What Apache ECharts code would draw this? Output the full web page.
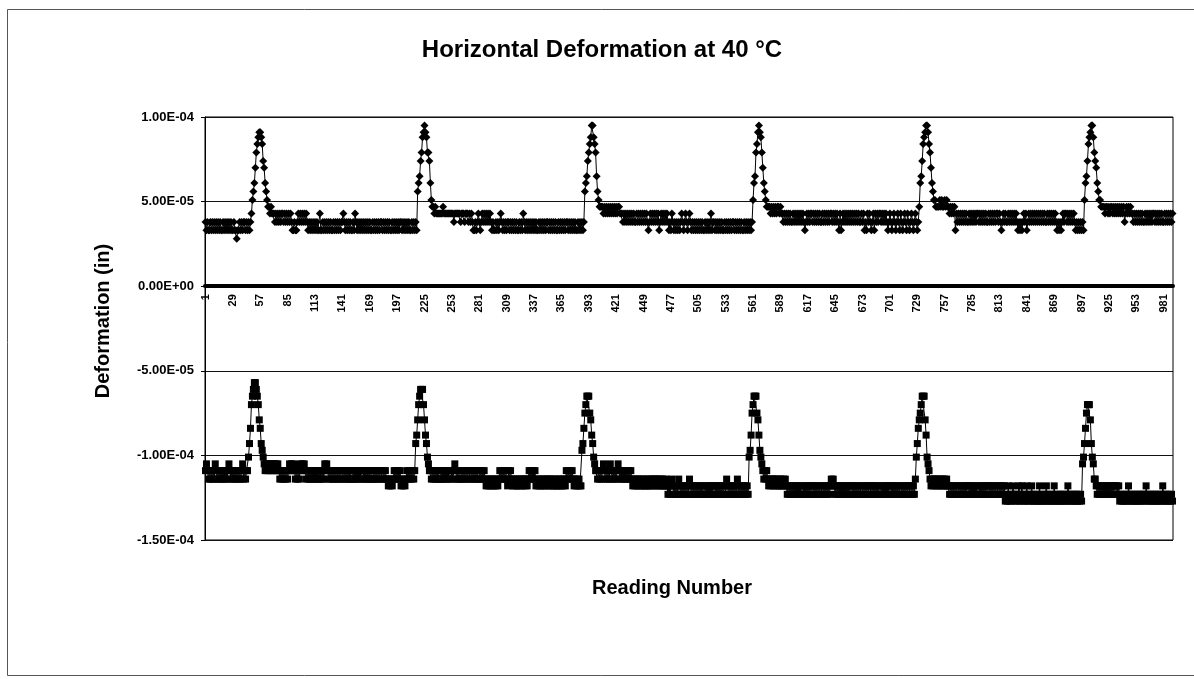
<!DOCTYPE html>
<html><head><meta charset="utf-8">
<script src="https://cdn.jsdelivr.net/npm/echarts@6/dist/echarts.min.js"></script>
<style>html,body{margin:0;padding:0;background:#fff}#c{width:1194px;height:679px}</style>
</head><body><div id="c"></div>
<script>
// ---- texts ----
const TITLE = 'Horizontal Deformation at 40 °C';
const X_NAME = 'Reading Number';
const Y_NAME = 'Deformation (in)';
// category tick labels shown on the x axis
const TICK_LABELS = ['1','29','57','85','113','141','169','197','225','253','281','309','337','365','393','421','449','477','505','533','561','589','617','645','673','701','729','757','785','813','841','869','897','925','953','981'];
// values are in micro-inches (1e-6 in); axis labels convert to inches
const VALUE_UNIT = 1e-6;
const Y_MIN = -150, Y_MAX = 100, Y_STEP = 50;

// ---- series 1 (diamonds): quantised reading levels, code letter a,b,c... -> level index ----
const TOP_LEVELS = [28, 33, 38, 43, 47, 51, 56, 61, 65, 70, 74, 79, 84, 88, 91, 95];
// one string per 10 readings (readings 1..990)
const TOP_CODES = [
 'cbcbbcbcbc','bcbcbcbbcb','cbcbcbcbbc','bbabbcbcbc','cbcbcbcdfg','hjlmnoonmk','jhgfeededd','dcdcdcdcdd','cdcdcdcdcb','bcbbcdcdcd',
 'cdcdcbcbcb','cbcbcbbdbb','cbcbcbcbcb','bcbcbcbcbc','cdcbcbcbcb','bcbdcbcbcb','cbcbcbcbcb','bcbcbcbcbc','cbcbcbcbcb','bcbcbcbcbc',
 'cbcbcbcbcb','bcbcbcbghi','klnoponllk','hfeededddd','dddedddddd','ddddcddddd','dcdddcdddc','dcdcbbcbcd','cbcdcdcdcd','cdcbcbbcbc',
 'bcdcbcbcbc','cbcbcbcbcb','bcbcbdcbcb','cbcbcbcbcb','bcbcbcbcbc','cbcbcbcbcb','bcbcbcbcbc','cbcbcbcbcb','bcbcbcbcgh','iklmnppnml',
 'igfeeeeded','ededededed','edeedddcdc','dcdcdcdcdc','cdcdcdcdcd','cdcbcdcdcd','cdcdbcdcdc','dcdcbcbdcb','cbcbcbcdcb','cdcbcdcbcb',
 'cbcbcbcbcb','bcbcbcbdbc','cbcbcbcbcb','bcbcbcbcbc','cbcbcbcbcb','bcbcbcbcbc','fhilmoponl','jhgfeeeede','dededeeded','dcdcdcdcdc',
 'cdcdcdcdcd','cdcbcdcdcd','dcdcdcdcdc','cdcdcdcdcd','dcdcdcdcbd','bcdcdcdcdc','dcdcdcdcdc','cdcdbcbdcd','cbcdbdcdcd','dcdcdcdcbc',
 'dcbcdcbcdc','bdcbcdcbdc','bcdcbcdcbc','ehikmnoppo','mljhgffeee','efefeefefe','edededebdc','dcdcdcdcdc','cdcdcdcdcd','dcdcdcdcdc',
 'cdcdcdcdcd','dcdcbcdcdc','cdcdcdcdcd','cbcbcbcdcd','bcdcdcdcdc','dcdcdcdcdc','cdcdcdcdcd','cbcbcbcdcd','dcdcdcdcdc','bcbcbcbcbf',
 'hikmnoppnl','kjhgffeeee','deededeede','dedededede','cdedededdc','dcdcdcdcdc','cdcdcdcdcd','dcdcdcdcdc','cdcdcdcdcd'
];

// ---- series 2 (squares) ----
const BOTTOM_LEVELS = [-57, -61, -65, -70, -75, -79, -84, -88, -93, -97, -101, -105, -109, -114, -118, -123, -127];
const BOTTOM_CODES = [
 'mlmnmnmnmn','lmnmnmnmnm','nmnmlmnmnm','nmnmnmnmln','mnmmkigdcb','aabcdfgijk','lmlmlmlmlm','lmlmlmnmnm','nmnmnmlmlm','lmnmnmnlml',
 'mlmnmnmnmn','mnmnmnmnmn','mnlmlmnmnm','nmnmnmnmnm','mnmnmnmnmn','nmnmnmnmnm','mnmnmnmnmn','nmnmnmnmnm','mnmnmnnono','nonmnmnmnm',
 'onononmnmn','mnmnmihfdc','bbbdfhiklm','mnmnmnmnmn','nmnmnmnmnm','mnmnmlmnmn','nmnmnmnmnm','mnmnmnmnmn','nmnmnmnono','nonononono',
 'nmnmnmnmno','mnmnononon','onononnono','nmnmnmnmon','ononononon','nonononono','ononononom','nmnmnmnono','nonoojiged','cccefhiklm',
 'mnmnmnmlmn','mnmnlmnmnm','nmlmnmnmnm','nmnmnmnono','nonononono','ononononon','nonononono','onopoponop','opopnopopo','popopnopop',
 'opopopopop','popopopopo','opopopopop','popnopopop','opopnpopop','opopopkjhe','dcccefhjkl','mnmnmnonon','nonononono','ononopopop',
 'opopopopop','popopopopo','opopopopop','popopopopo','nonopopopo','popopopopo','opopopopop','popopopopo','opopopopop','popopopopo',
 'opopopopop','popopopopo','opopopnkig','fedcccfhkl','mnononnono','nonononono','opopopopop','popopopopo','opopopopop','popopopopo',
 'opopopopop','popopopoqp','qoqpqpopqp','qpoqpoqpqp','oqpqpoqpqp','qpqoqpqpqp','oqpqpqpqoq','pqpqpqpqpq','pqopqpqpqp','qpqpqpqlki',
 'gedddfikln','nopopopopo','popopopopo','opopoqpqpq','pqpqopqpqp','qpqpqpqpqp','pqopqpqpqp','qpqpqpqpqo','pqpqpqpqpq'
];

function decode(chunks, levels) {
  const out = [];
  chunks.join('').split('').forEach(function (ch) { out.push(levels[ch.charCodeAt(0) - 97]); });
  return out;
}
const TOP = decode(TOP_CODES, TOP_LEVELS);
const BOTTOM = decode(BOTTOM_CODES, BOTTOM_LEVELS);
const CATEGORIES = TOP.map(function (_, i) { return String(i + 1); });
const TICK_SET = new Set(TICK_LABELS);

function sci(v) {
  const x = v * VALUE_UNIT;
  if (Math.abs(x) < 1e-12) return '0.00E+00';
  const parts = x.toExponential(2).split('e');
  const e = parseInt(parts[1], 10);
  return parts[0] + 'E' + (e < 0 ? '-' : '+') + String(Math.abs(e)).padStart(2, '0');
}

const FONT = "'Liberation Sans', Arial, sans-serif";
const GRID_TOP = 117, GRID_BOTTOM = 139, H = 679;
const plotH = H - GRID_TOP - GRID_BOTTOM;
const zeroY = GRID_TOP + (Y_MAX / (Y_MAX - Y_MIN)) * plotH;
const labelOffset = -((H - GRID_BOTTOM) - zeroY);

const chart = echarts.init(document.getElementById('c'), null, {renderer: 'canvas'});
chart.setOption({
  animation: false,
  backgroundColor: '#fff',
  title: [
    {text: TITLE, left: 597, top: 33, textAlign: 'center',
     textStyle: {fontFamily: FONT, fontWeight: 'bold', fontSize: 24, color: '#000'}},
    {text: X_NAME, left: 667, top: 573, textAlign: 'center',
     textStyle: {fontFamily: FONT, fontWeight: 'bold', fontSize: 20, color: '#000'}}
  ],
  graphic: [
    {type: 'rect', silent: true, z: -10,
     shape: {x: 7.5, y: 9.5, width: 1200, height: 666},
     style: {fill: 'none', stroke: '#555', lineWidth: 1}},
    {type: 'text', silent: true, x: 103, y: 321, rotation: Math.PI / 2,
     style: {text: Y_NAME, fontFamily: FONT, fontWeight: 'bold', fontSize: 20, fill: '#000',
             align: 'center', verticalAlign: 'middle'}}
  ],
  grid: {left: 205, right: 21, top: GRID_TOP, bottom: GRID_BOTTOM, show: true, borderColor: '#000', borderWidth: 1, backgroundColor: 'transparent'},
  xAxis: [
    {
      type: 'category', data: CATEGORIES, boundaryGap: true,
      axisLine: {onZero: true, lineStyle: {color: '#000', width: 4}},
      axisTick: {show: false},
      axisLabel: {show: false},
      splitLine: {show: false}
    },
    {
      type: 'category', data: CATEGORIES, boundaryGap: true, position: 'bottom', offset: labelOffset,
      axisLine: {show: false, onZero: false},
      axisTick: {show: false},
      axisLabel: {
        interval: function (idx, val) { return TICK_SET.has(val); },
        rotate: 90, margin: 8, color: '#000', fontFamily: FONT, fontWeight: 'bold', fontSize: 11
      },
      splitLine: {show: false}
    }
  ],
  yAxis: {
    type: 'value', min: Y_MIN, max: Y_MAX, interval: Y_STEP,
    axisLine: {show: true, lineStyle: {color: '#000', width: 1}},
    axisTick: {show: true, length: 4, lineStyle: {color: '#000'}},
    axisLabel: {formatter: sci, margin: 11, color: '#000', fontFamily: FONT, fontWeight: 'bold', fontSize: 13},
    splitLine: {show: true, lineStyle: {color: '#111', width: 1}}
  },
  series: [
    {type: 'line', data: TOP, symbol: 'diamond', symbolSize: 8, showAllSymbol: true, silent: true,
     lineStyle: {color: '#000', width: 1}, itemStyle: {color: '#000', borderWidth: 0}, emphasis: {disabled: true}},
    {type: 'line', data: BOTTOM, symbol: 'rect', symbolSize: 7, showAllSymbol: true, silent: true,
     lineStyle: {color: '#000', width: 1}, itemStyle: {color: '#000', borderWidth: 0}, emphasis: {disabled: true}}
  ]
});
</script>
</body></html>
